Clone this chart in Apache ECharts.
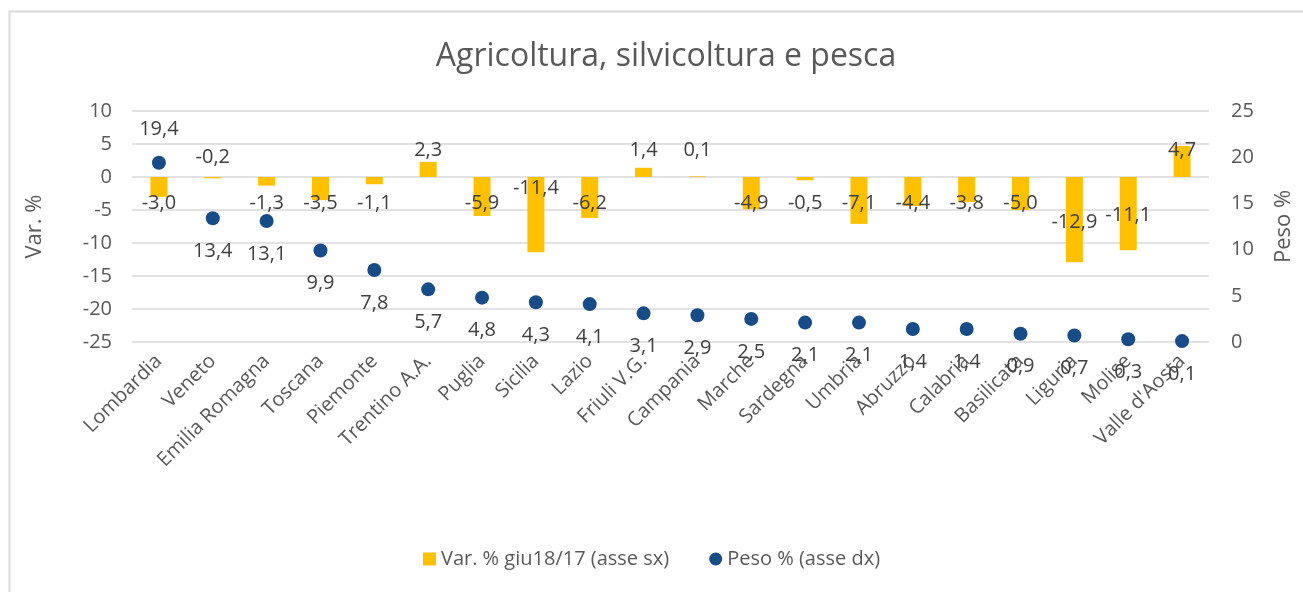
<!DOCTYPE html>
<html>
<head>
<meta charset="utf-8">
<script src="https://cdn.jsdelivr.net/npm/echarts@6/dist/echarts.min.js"></script>
<style>
  html, body { margin: 0; padding: 0; background: #fff; }
  #chart { width: 1303px; height: 592px; }
</style>
</head>
<body>
<div id="chart"></div>
<script>
// regions, ordered by weight
const regions = ['Lombardia', 'Veneto', 'Emilia Romagna', 'Toscana', 'Piemonte', 'Trentino A.A.',
  'Puglia', 'Sicilia', 'Lazio', 'Friuli V.G.', 'Campania', 'Marche', 'Sardegna', 'Umbria',
  'Abruzzo', 'Calabria', 'Basilicata', 'Liguria', 'Molise', "Valle d'Aosta"];

// Var. % giu18/17 (left axis)
const varPct = [-3.0, -0.2, -1.3, -3.5, -1.1, 2.3, -5.9, -11.4, -6.2, 1.4,
  0.1, -4.9, -0.5, -7.1, -4.4, -3.8, -5.0, -12.9, -11.1, 4.7];

// Peso % (right axis)
const pesoPct = [19.4, 13.4, 13.1, 9.9, 7.8, 5.7, 4.8, 4.3, 4.1, 3.1,
  2.9, 2.5, 2.1, 2.1, 1.4, 1.4, 0.9, 0.7, 0.3, 0.1];

const FONT = '"Open Sans", sans-serif';
const GREY = '#595959';
const fmt = v => v.toFixed(1).replace('.', ',');

// where the bar labels sit, in left-axis units (excel placed them by hand)
const labelAt = { 1: 3.0, 7: -1.7, 17: -6.8, 18: -5.8 };
function barLabelValue(i) {
  if (labelAt[i] !== undefined) return labelAt[i];
  return varPct[i] >= 0 ? 4.0 : -4.0;
}

const chart = echarts.init(document.getElementById('chart'), null, { renderer: 'canvas' });

chart.setOption({
  animation: false,
  textStyle: { fontFamily: FONT },
  graphic: [{
    type: 'rect',
    shape: { x: 9.5, y: 11.5, width: 1400, height: 700 },
    style: { fill: 'none', stroke: '#d9d9d9', lineWidth: 2 },
    silent: true
  }],
  title: {
    text: 'Agricoltura, silvicoltura e pesca',
    left: 661, top: 36, textAlign: 'center',
    textStyle: { fontFamily: FONT, fontSize: 32, fontWeight: 'normal', color: GREY }
  },
  legend: {
    bottom: 18, left: 'center', itemGap: 40, itemWidth: 13, itemHeight: 13,
    textStyle: { fontFamily: FONT, fontSize: 20, color: GREY },
    data: [
      { name: 'Var. % giu18/17 (asse sx)', icon: 'rect' },
      { name: 'Peso % (asse dx)', icon: 'circle' }
    ]
  },
  grid: { left: 132, right: 91, top: 111, bottom: 250 },
  xAxis: {
    type: 'category',
    data: regions,
    axisLine: { show: false },
    axisTick: { show: false },
    axisLabel: {
      rotate: 45, interval: 0, margin: 16,
      fontFamily: FONT, fontSize: 20, color: GREY
    }
  },
  yAxis: [{
    type: 'value', min: -25, max: 10, interval: 5,
    name: 'Var. %', nameLocation: 'middle', nameGap: 86, nameRotate: 90,
    nameTextStyle: { fontFamily: FONT, fontSize: 22, color: GREY },
    axisLine: { show: false }, axisTick: { show: false },
    axisLabel: { margin: 20, fontFamily: FONT, fontSize: 20, color: GREY },
    splitLine: { lineStyle: { color: '#d9d9d9', width: 1.5 } }
  }, {
    type: 'value', min: 0, max: 25, interval: 5, position: 'right',
    name: 'Peso %', nameLocation: 'middle', nameGap: 64, nameRotate: 90,
    nameTextStyle: { fontFamily: FONT, fontSize: 22, color: GREY },
    axisLine: { show: false }, axisTick: { show: false },
    axisLabel: { margin: 22, fontFamily: FONT, fontSize: 20, color: GREY },
    splitLine: { show: false }
  }],
  series: [{
    name: 'Var. % giu18/17 (asse sx)',
    type: 'bar',
    yAxisIndex: 0,
    data: varPct,
    barWidth: 17,
    itemStyle: { color: '#FFC000' },
    label: {
      show: true, position: 'inside',
      fontFamily: FONT, fontSize: 20, color: '#404040',
      formatter: p => fmt(p.value)
    },
    labelLayout: function (params) {
      const y = chart.convertToPixel({ yAxisIndex: 0 }, barLabelValue(params.dataIndex));
      return {
        x: params.rect.x + params.rect.width / 2,
        y: y,
        align: 'center',
        verticalAlign: 'middle'
      };
    },
    z: 2
  }, {
    name: 'Peso % (asse dx)',
    type: 'scatter',
    yAxisIndex: 1,
    data: pesoPct.map((v, i) => ({
      value: v,
      label: { position: i === 0 ? 'top' : 'bottom' }
    })),
    symbol: 'circle',
    symbolSize: 14,
    itemStyle: { color: '#174C89', opacity: 1 },
    label: {
      show: true, distance: 16,
      fontFamily: FONT, fontSize: 20, color: '#404040',
      formatter: p => fmt(p.value)
    },
    z: 3
  }]
});
</script>
</body>
</html>
